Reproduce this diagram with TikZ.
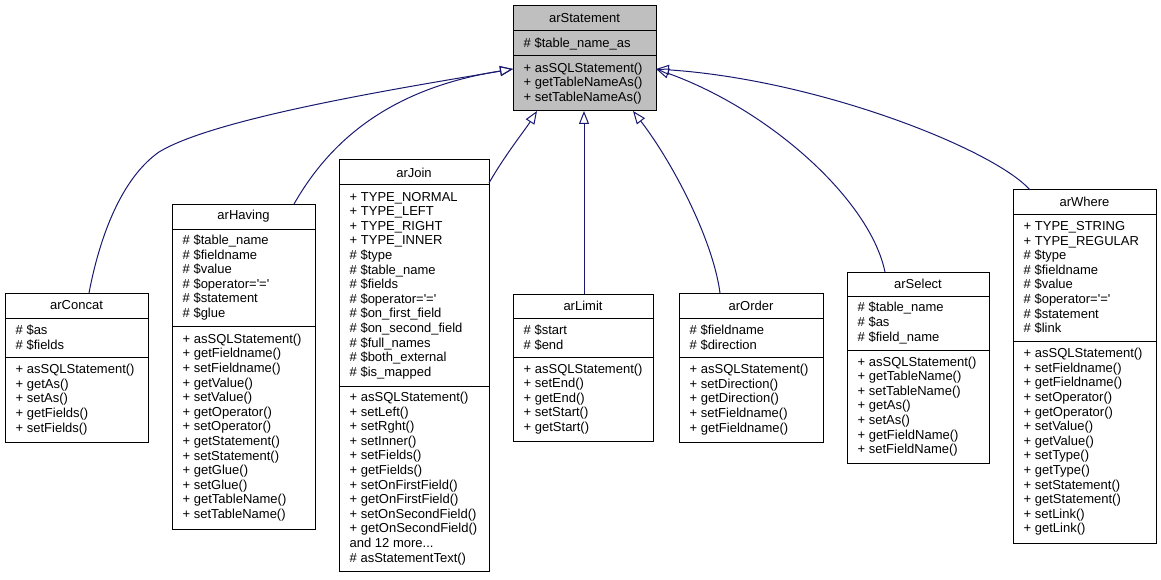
\documentclass[tikz,border=0pt]{standalone}
\usepackage{fontspec}
\setmainfont{Liberation Sans}
\usetikzlibrary{arrows.meta}
\newcommand\sq{\textquotesingle}
\newcommand\umlgeom[6]{\def\xa{#1}\def\xb{#2}\def\yt{#3}\def\ya{#4}\def\yb{#5}\def\yc{#6}}
\newcommand\umlbox[5]{%
  \pgfmathsetmacro\bw{\xb-\xa}\pgfmathsetmacro\bh{\yc-\yt}%
  \node[classbox, fill=#2, minimum width=\bw pt, minimum height=\bh pt] (#1) at (\xa,\yt) {};
  \draw[classline] (\xa,\ya) -- (\xb,\ya);
  \draw[classline] (\xa,\yb) -- (\xb,\yb);
  \node[classtext] (#1-t) at ({(\xa+\xb)/2},{(\yt+\ya)/2}) {#3};
  \node[classtext, anchor=west, align=left] (#1-a) at ({\xa+10.5},{(\ya+\yb)/2}) {#4};
  \node[classtext, anchor=west, align=left] (#1-m) at ({\xa+10.5},{(\yb+\yc)/2}) {#5};
}
\definecolor{edgeblue}{HTML}{191970}
\definecolor{grey75}{HTML}{BFBFBF}
\tikzset{
  classbox/.style={draw=black, line width=1pt, anchor=north west, inner sep=0pt, outer sep=0pt},
  classline/.style={draw=black, line width=1pt},
  classtext/.style={inner sep=0pt, font=\fontsize{13pt}{14.6pt}\selectfont, text=black},
  inherit/.style={draw=edgeblue, line width=1pt, -{Triangle[open, length=13pt, width=10pt]}}
}
\begin{document}
\begin{tikzpicture}[x=1pt, y=-1pt]
\useasboundingbox (0,0) rectangle (1161,580);

\umlgeom{513}{656}{6}{31}{56}{111}
\umlbox{stmt}{grey75}{arStatement}{\# \$table\_name\_as}{+ asSQLStatement()\\+ getTableNameAs()\\+ setTableNameAs()}

\umlgeom{5}{148}{293}{318}{357}{442}
\umlbox{concat}{white}{arConcat}{\# \$as\\\# \$fields}{+ asSQLStatement()\\+ getAs()\\+ setAs()\\+ getFields()\\+ setFields()}

\umlgeom{172}{315}{204}{229}{326}{529}
\umlbox{having}{white}{arHaving}{\# \$table\_name\\\# \$fieldname\\\# \$value\\\# \$operator=\sq=\sq\\\# \$statement\\\# \$glue}{+ asSQLStatement()\\+ getFieldname()\\+ setFieldname()\\+ getValue()\\+ setValue()\\+ getOperator()\\+ setOperator()\\+ getStatement()\\+ setStatement()\\+ getGlue()\\+ setGlue()\\+ getTableName()\\+ setTableName()}

\umlgeom{339}{489}{160}{185}{386}{571}
\umlbox{join}{white}{arJoin}{+ TYPE\_NORMAL\\+ TYPE\_LEFT\\+ TYPE\_RIGHT\\+ TYPE\_INNER\\\# \$type\\\# \$table\_name\\\# \$fields\\\# \$operator=\sq=\sq\\\# \$on\_first\_field\\\# \$on\_second\_field\\\# \$full\_names\\\# \$both\_external\\\# \$is\_mapped}{+ asSQLStatement()\\+ setLeft()\\+ setRght()\\+ setInner()\\+ setFields()\\+ getFields()\\+ setOnFirstField()\\+ getOnFirstField()\\+ setOnSecondField()\\+ getOnSecondField()\\and 12 more...\\\# asStatementText()}

\umlgeom{513}{653}{294}{318}{357}{441}
\umlbox{limit}{white}{arLimit}{\# \$start\\\# \$end}{+ asSQLStatement()\\+ setEnd()\\+ getEnd()\\+ setStart()\\+ getStart()}

\umlgeom{679}{823}{293}{318}{357}{442}
\umlbox{order}{white}{arOrder}{\# \$fieldname\\\# \$direction}{+ asSQLStatement()\\+ setDirection()\\+ getDirection()\\+ setFieldname()\\+ getFieldname()}

\umlgeom{847}{989}{272}{296}{350}{463}
\umlbox{select}{white}{arSelect}{\# \$table\_name\\\# \$as\\\# \$field\_name}{+ asSQLStatement()\\+ getTableName()\\+ setTableName()\\+ getAs()\\+ setAs()\\+ getFieldName()\\+ setFieldName()}

\umlgeom{1013}{1156}{190}{214}{341}{543}
\umlbox{where}{white}{arWhere}{+ TYPE\_STRING\\+ TYPE\_REGULAR\\\# \$type\\\# \$fieldname\\\# \$value\\\# \$operator=\sq=\sq\\\# \$statement\\\# \$link}{+ asSQLStatement()\\+ setFieldname()\\+ getFieldname()\\+ setOperator()\\+ getOperator()\\+ setValue()\\+ getValue()\\+ setType()\\+ getType()\\+ setStatement()\\+ getStatement()\\+ setLink()\\+ getLink()}

% inheritance connectors
\draw[inherit] ([xshift=12.5pt]concat.north) .. controls (100,235) and (122,178) .. (159,152)
   .. controls (215,118) and (400,88) .. ([yshift=-63pt]stmt.north west);
\draw[inherit] ([xshift=50.5pt]having.north) .. controls (325,150) and (380,90) .. ([yshift=-63pt]stmt.north west);
\draw[inherit] ([yshift=-23pt]join.north east) .. controls (505,155) and (525,130) .. ([xshift=-47.5pt]stmt.south);
\draw[inherit] ([xshift=1pt]limit.north) -- ([xshift=-0.5pt]stmt.south);
\draw[inherit] ([xshift=-31pt]order.north) .. controls (713,240) and (673,163) .. ([xshift=48.5pt]stmt.south);
\draw[inherit] ([xshift=-33pt]select.north) .. controls (870,200) and (770,110) .. ([yshift=-63pt]stmt.north east);
\draw[inherit] ([xshift=-54.5pt]where.north) .. controls (995,150) and (820,80) .. ([yshift=-63pt]stmt.north east);
\end{tikzpicture}
\end{document}
